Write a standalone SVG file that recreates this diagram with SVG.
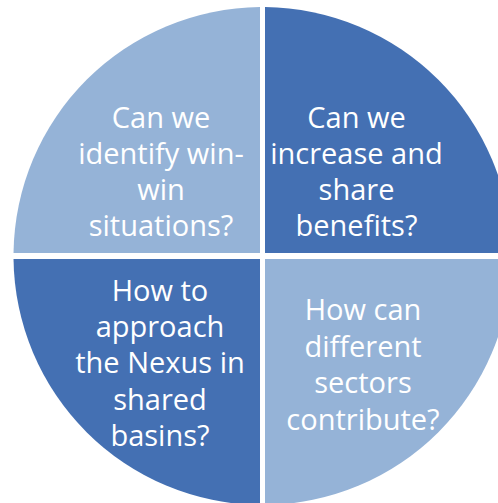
<svg xmlns="http://www.w3.org/2000/svg" width="498" height="503" viewBox="0 0 498 503">
<style>
.light{fill:#95B3D7}
.dark{fill:#4470B3}
text{font-family:"Open Sans","Liberation Sans",sans-serif;font-size:29px;fill:#FFFFFF;text-anchor:middle}
</style>
<rect width="498" height="503" fill="#FFFFFF"/>
<g id="q1">
<path class="light" d="M260,253 V7.01 A249,249 0 0 0 13.52,253 Z"/>
<text x="161" y="128">Can we</text>
<text x="161" y="164">identify win-</text>
<text x="161" y="200">win</text>
<text x="161" y="236">situations?</text>
</g>
<g id="q2">
<path class="dark" d="M265,253 V7.01 A249,249 0 0 1 511.48,253 Z"/>
<text x="356.5" y="128">Can we</text>
<text x="356.5" y="164">increase and</text>
<text x="356.5" y="200">share</text>
<text x="356.5" y="236">benefits?</text>
</g>
<g id="q3">
<path class="dark" d="M260,259 H13.52 A249,249 0 0 0 260,504.99 Z"/>
<text x="160" y="301">How to</text>
<text x="160" y="337">approach</text>
<text x="160" y="373">the Nexus in</text>
<text x="160" y="410">shared</text>
<text x="160" y="446">basins?</text>
</g>
<g id="q4">
<path class="light" d="M265,259 V504.99 A249,249 0 0 0 511.48,259 Z"/>
<text x="363" y="320">How can</text>
<text x="363" y="357">different</text>
<text x="363" y="393">sectors</text>
<text x="363" y="430">contribute?</text>
</g>
<g id="connectors"></g>
</svg>
